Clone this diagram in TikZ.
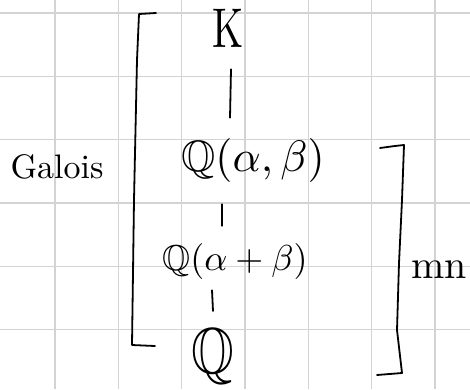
\documentclass[tikz,border=0pt]{standalone}
\usepackage{amssymb}
\usepackage{graphicx}
\usetikzlibrary{calc}
\definecolor{gridgray}{HTML}{D3D3D3}
\begin{document}
\begin{tikzpicture}[x=1pt,y=-1pt,
  ink/.style={line width=1.8pt, line cap=round, line join=round, draw=black},
  gridline/.style={draw=gridgray, line width=1.5pt},
  lbl/.style={inner sep=0pt, text=black}]
\useasboundingbox (0,0) rectangle (470,389);
\fill[white] (0,0) rectangle (470,389);
% grid paper
\foreach \x in {55,118.3,181.7,245,308.3,371.7,435}
  \draw[gridline] (\x,0) -- (\x,389);
\foreach \y in {13,76.3,139.7,203,266.3,329.7}
  \draw[gridline] (0,\y) -- (470,\y);
% field tower
\node[lbl] (K) at (228,28) {\scalebox{4}[5.6]{K}};
\node[lbl] (Qab) at (253,160) {\scalebox{4.4}{$\mathbb{Q}(\alpha,\beta)$}};
\node[lbl] (Qapb) at (235,261) {\scalebox{3.6}{$\mathbb{Q}(\alpha+\beta)$}};
\node[lbl] (Q) at (213,357) {\scalebox{5.5}[6.5]{$\mathbb{Q}$}};
\node[lbl] (galois) at (57,167) {\scalebox{3.4}{Galois}};
\node[lbl] (mn) at (439,270) {\scalebox{4}{mn}};
% connectors
\draw[ink] ([xshift=3pt,yshift=-22pt]K.south) -- ([xshift=-23pt,yshift=20pt]Qab.north);
\draw[ink] ([xshift=-31pt,yshift=-22pt]Qab.south) -- ([xshift=-13pt,yshift=17pt]Qapb.north);
\draw[ink] ([xshift=-23pt,yshift=-11pt]Qapb.south) -- ([yshift=18pt]Q.north);
% brackets
\draw[ink] (156,13) -- (139,14) -- (137,60) -- (134,200) -- (132,345) -- (155,346);
\draw[ink] (380,148) -- (395,146) -- (404,145) -- (402,200) -- (399,263) -- (397,330) -- (402,373) -- (377,375);
\end{tikzpicture}
\end{document}
